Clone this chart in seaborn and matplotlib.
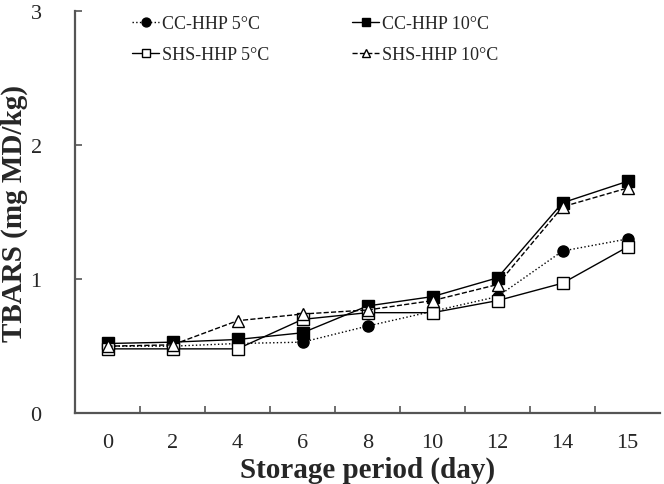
import numpy as np
import pandas as pd
import matplotlib
matplotlib.use('Agg')
import matplotlib.pyplot as plt
import seaborn as sns
from matplotlib.ticker import FixedLocator

days = ['0', '2', '4', '6', '8', '10', '12', '14', '15']

cc_5 = [0.50, 0.50, 0.52, 0.53, 0.65, 0.76, 0.87, 1.21, 1.30]
cc_10 = [0.52, 0.53, 0.55, 0.60, 0.80, 0.87, 1.01, 1.57, 1.73]
shs_5 = [0.48, 0.48, 0.48, 0.70, 0.75, 0.75, 0.84, 0.97, 1.24]
shs_10 = [0.50, 0.51, 0.69, 0.74, 0.77, 0.84, 0.96, 1.54, 1.68]

labels = ['CC-HHP 5°C', 'CC-HHP 10°C', 'SHS-HHP 5°C', 'SHS-HHP 10°C']
series = [cc_5, cc_10, shs_5, shs_10]

sns.set_style('ticks')
plt.rcParams['font.family'] = ['Liberation Serif', 'DejaVu Serif']

fig = plt.figure(figsize=(6.64, 4.85), dpi=100)
ax = fig.add_axes([0.113, 0.146, 0.881, 0.829])

styles = [
    dict(linestyle=':', marker='o', markerfacecolor='black'),
    dict(linestyle='-', marker='s', markerfacecolor='black'),
    dict(linestyle='-', marker='s', markerfacecolor='white'),
    dict(linestyle='--', marker='^', markerfacecolor='white'),
]

for lab, vals, st in zip(labels, series, styles):
    df = pd.DataFrame({'day': days, 'tbars': vals})
    sns.lineplot(data=df, x='day', y='tbars', ax=ax, color='black', linewidth=1.0,
                 markersize=8, markeredgecolor='black', markeredgewidth=1.0,
                 label=lab, sort=False, **st)

ax.set_xlim(-0.5, 8.5)
ax.set_ylim(0, 3)
ax.set_yticks([0, 1, 2, 3])
ax.set_xticks(range(len(days)))
ax.set_xticklabels(days)
ax.xaxis.set_minor_locator(FixedLocator(np.arange(0.5, 8.0, 1.0)))
ax.tick_params(axis='x', which='major', length=0, pad=14, labelsize=16)
ax.tick_params(axis='x', which='minor', direction='in', length=5, width=1.2, color='#555555')
ax.tick_params(axis='y', direction='in', length=5, width=1.2, color='#555555', pad=24, labelsize=16)

for s in ['top', 'right']:
    ax.spines[s].set_visible(False)
for s in ['left', 'bottom']:
    ax.spines[s].set_color('#555555')
    ax.spines[s].set_linewidth(1.6)

ax.set_xlabel('Storage period (day)', fontsize=21, fontweight='bold', labelpad=3)
ax.set_ylabel('TBARS (mg MD/kg)', fontsize=21, fontweight='bold')
ax.yaxis.set_label_coords(-0.081, 0.5)

# reorder so rows read CC 5 / CC 10, then SHS 5 / SHS 10
handles, labs = ax.get_legend_handles_labels()
order = [0, 2, 1, 3]
ax.legend([handles[i] for i in order], [labs[i] for i in order],
          loc='upper left', bbox_to_anchor=(0.07, 1.03), ncol=2, frameon=False,
          fontsize=13, handlelength=1.5, handletextpad=0.15, columnspacing=4.6,
          labelspacing=0.75, markerscale=0.8)

fig.savefig('out.png', dpi=100)
